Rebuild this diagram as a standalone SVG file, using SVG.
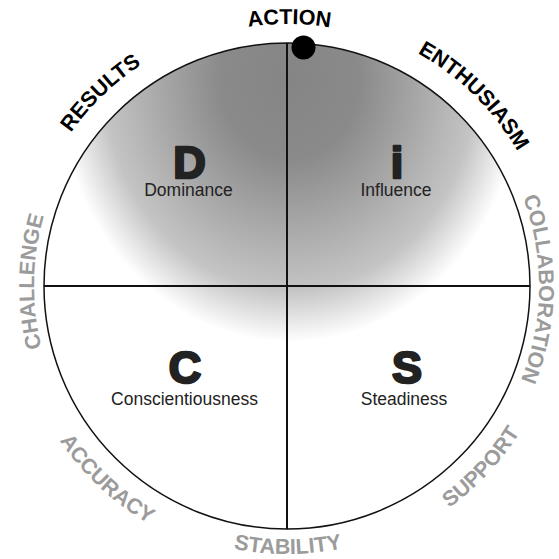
<svg xmlns="http://www.w3.org/2000/svg" xmlns:xlink="http://www.w3.org/1999/xlink" width="559" height="559" viewBox="0 0 559 559">
  <style>
    .lbl { font-family: "Liberation Sans", Arial, sans-serif; font-weight: bold; font-size: 21.5px; }
    .blk { fill: #000; }
    .gry { fill: #9b9b9b; }
    .big { font-family: "Liberation Sans", Arial, sans-serif; font-weight: bold; font-size: 45px; fill: #222; stroke: #222; stroke-width: 2.5; stroke-linejoin: round; text-anchor: middle; }
    .name { font-family: "Liberation Sans", Arial, sans-serif; font-size: 17.5px; fill: #222; text-anchor: middle; }
    .cross { stroke: #111; stroke-width: 2; fill: none; }
  </style>
  <defs>
    <radialGradient id="shade" gradientUnits="userSpaceOnUse" cx="0" cy="0" r="1" gradientTransform="translate(290 80) scale(232 262)">
      <stop offset="0" stop-color="#858585"/>
      <stop offset="0.3" stop-color="#8a8a8a"/>
      <stop offset="0.8" stop-color="#c4c4c4"/>
      <stop offset="1" stop-color="#ffffff"/>
    </radialGradient>
    <clipPath id="disc"><circle cx="287" cy="286" r="243"/></clipPath>
    <!-- clockwise circles starting at bottom (text tops outward) -->
    <path id="cw262" d="M287,548 A262,262 0 1 1 287,24 A262,262 0 1 1 287,548"/>
    <path id="cw265" d="M287,551 A265,265 0 1 1 287,21 A265,265 0 1 1 287,551"/>
    <path id="cw267" d="M287,553 A267,267 0 1 1 287,19 A267,267 0 1 1 287,553"/>
    <path id="cw253" d="M287,539 A253,253 0 1 1 287,33 A253,253 0 1 1 287,539"/>
    <path id="cw252" d="M287,538 A252,252 0 1 1 287,34 A252,252 0 1 1 287,538"/>
    <!-- counter-clockwise circles starting at top (text tops inward) -->
    <path id="ccw268" d="M287,18 A268,268 0 1 0 287,554 A268,268 0 1 0 287,18"/>
    <path id="ccw275" d="M287,11 A275,275 0 1 0 287,561 A275,275 0 1 0 287,11"/>
  </defs>

  <rect width="559" height="559" fill="#fff"/>

  <g id="disc-body">
    <circle cx="287" cy="286" r="243" fill="#fff"/>
    <rect x="40" y="40" width="494" height="494" fill="url(#shade)" clip-path="url(#disc)"/>
    <circle cx="287" cy="286" r="243" fill="none" stroke="#111" stroke-width="1.5"/>
  </g>

  <g id="connectors">
    <line class="cross" x1="287" y1="43" x2="287" y2="529"/>
    <line class="cross" x1="44" y1="286" x2="530" y2="286"/>
  </g>

  <g id="quadrant-D">
    <text class="big" x="189.5" y="178">D</text>
    <text class="name" x="188.5" y="196">Dominance</text>
  </g>
  <g id="quadrant-i">
    <text class="big" x="397" y="178">i</text>
    <text class="name" x="396" y="196">Influence</text>
  </g>
  <g id="quadrant-C">
    <text class="big" x="185" y="383">C</text>
    <text class="name" x="184.5" y="405">Conscientiousness</text>
  </g>
  <g id="quadrant-S">
    <text class="big" x="407" y="383">S</text>
    <text class="name" x="404" y="405">Steadiness</text>
  </g>

  <g id="action-marker">
    <circle cx="303.5" cy="47.5" r="12" fill="#000"/>
  </g>

  <g id="labels" class="lbl">
    <text class="blk" text-anchor="middle"><textPath xlink:href="#cw262" href="#cw262" startOffset="50.14%">ACTION</textPath></text>
    <text class="blk" text-anchor="middle"><textPath xlink:href="#cw265" href="#cw265" startOffset="37.78%">RESULTS</textPath></text>
    <text class="blk" text-anchor="middle"><textPath xlink:href="#cw267" href="#cw267" startOffset="62.36%">ENTHUSIASM</textPath></text>
    <text class="gry" text-anchor="middle"><textPath xlink:href="#cw253" href="#cw253" startOffset="25.28%">CHALLENGE</textPath></text>
    <text class="gry" text-anchor="middle"><textPath xlink:href="#cw252" href="#cw252" startOffset="75.19%">COLLABORATION</textPath></text>
    <text class="gry" text-anchor="middle"><textPath xlink:href="#ccw268" href="#ccw268" startOffset="50.06%">STABILITY</textPath></text>
    <text class="gry" text-anchor="middle"><textPath xlink:href="#ccw275" href="#ccw275" startOffset="38.06%">ACCURACY</textPath></text>
    <text class="gry" text-anchor="middle"><textPath xlink:href="#ccw275" href="#ccw275" startOffset="63.06%">SUPPORT</textPath></text>
  </g>
</svg>
